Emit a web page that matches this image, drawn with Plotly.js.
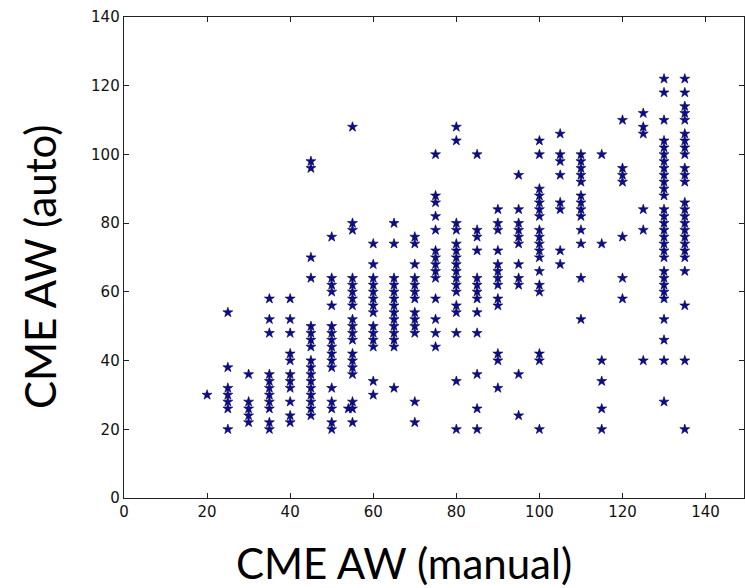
<!DOCTYPE html>
<html>
<head>
<meta charset="utf-8">
<script src="https://cdn.plot.ly/plotly-3.0.1.min.js"></script>
<style>
  html, body { margin: 0; padding: 0; background: #fff; }
  #chart { width: 745px; height: 588px; }
</style>
</head>
<body>
<div id="chart"></div>
<script>
// CME angular width: manual (x) vs automatic (y), one array per manual-value column
const aw20  = [30];
const aw25  = [54, 38, 32, 30, 28, 26, 20];
const aw30  = [36, 28, 26, 24, 22];
const aw35  = [58, 52, 48, 36, 34, 32, 30, 28, 26, 22, 20];
const aw40  = [58, 52, 48, 42, 40, 36, 34, 32, 28, 24, 22];
const aw45  = [98, 96, 70, 64, 50, 48, 46, 44, 40, 38, 36, 34, 32, 30, 28, 26, 24];
const aw50  = [76, 64, 62, 60, 56, 50, 48, 46, 44, 42, 40, 38, 32, 28, 26, 22, 20];
const aw54  = [26];
const aw55  = [108, 80, 78, 64, 62, 60, 58, 56, 52, 50, 48, 46, 42, 40, 38, 36, 28, 26, 22];
const aw60  = [74, 68, 64, 62, 60, 58, 56, 54, 50, 48, 46, 44, 34, 30];
const aw65  = [80, 74, 64, 62, 60, 58, 56, 54, 52, 50, 48, 46, 44, 32];
const aw70  = [76, 74, 68, 64, 62, 60, 58, 54, 52, 50, 48, 28, 22];
const aw75  = [100, 88, 86, 82, 78, 72, 70, 68, 66, 64, 58, 52, 48, 44];
const aw80  = [108, 104, 80, 78, 74, 72, 70, 68, 66, 64, 62, 60, 56, 54, 48, 34, 20];
const aw85  = [100, 78, 76, 72, 64, 62, 60, 58, 54, 48, 36, 26, 20];
const aw90  = [84, 80, 78, 72, 68, 66, 64, 62, 58, 56, 42, 40, 32];
const aw95  = [94, 84, 80, 78, 76, 74, 68, 64, 62, 36, 24];
const aw100 = [104, 100, 90, 88, 86, 84, 82, 78, 76, 74, 72, 70, 66, 62, 60, 42, 40, 20];
const aw105 = [106, 100, 98, 94, 86, 84, 72, 68];
const aw110 = [100, 98, 96, 94, 92, 88, 86, 84, 82, 78, 74, 64, 52];
const aw115 = [100, 74, 40, 34, 26, 20];
const aw120 = [110, 96, 94, 92, 76, 64, 58];
const aw125 = [112, 108, 106, 84, 78, 40];
const aw130 = [122, 118, 110, 104, 102, 100, 98, 96, 94, 92, 90, 88, 84, 82, 80, 78, 76, 74, 72, 70, 66, 64, 62, 60, 58, 52, 46, 40, 28];
const aw135 = [122, 118, 114, 112, 110, 106, 104, 102, 100, 96, 94, 92, 86, 84, 82, 80, 78, 76, 74, 72, 70, 66, 56, 40, 20];

const manualValues = [20, 25, 30, 35, 40, 45, 50, 54, 55, 60, 65, 70, 75, 80, 85, 90, 95, 100, 105, 110, 115, 120, 125, 130, 135];
const autoColumns  = [aw20, aw25, aw30, aw35, aw40, aw45, aw50, aw54, aw55, aw60, aw65, aw70, aw75, aw80, aw85, aw90, aw95, aw100, aw105, aw110, aw115, aw120, aw125, aw130, aw135];

const xTicks = [0, 20, 40, 60, 80, 100, 120, 140];
const yTicks = [0, 20, 40, 60, 80, 100, 120, 140];

const xs = [], ys = [];
manualValues.forEach((m, i) => {
  autoColumns[i].forEach(v => { xs.push(m); ys.push(v); });
});

const trace = {
  type: 'scatter',
  mode: 'markers',
  x: xs,
  y: ys,
  marker: {
    symbol: 'star',
    size: 7.5,
    color: '#0c0c96',
    line: { color: '#000040', width: 0.6 }
  },
  hoverinfo: 'x+y'
};

const axisCommon = {
  showgrid: false,
  zeroline: false,
  showline: true,
  linecolor: '#222',
  linewidth: 1.3,
  mirror: 'allticks',
  ticks: 'inside',
  ticklen: 5,
  tickwidth: 1,
  tickcolor: '#222',
  tickfont: { family: 'DejaVu Sans', size: 15, color: '#111' }
};

const layout = {
  width: 745,
  height: 588,
  margin: { l: 124, r: 1, t: 17, b: 90 },
  paper_bgcolor: '#fff',
  plot_bgcolor: '#fff',
  showlegend: false,
  xaxis: Object.assign({}, axisCommon, {
    range: [0, 149.25],
    tickvals: xTicks,
    ticktext: xTicks.map(String)
  }),
  yaxis: Object.assign({}, axisCommon, {
    range: [0, 140],
    tickvals: yTicks,
    ticktext: yTicks.map(String)
  }),
  annotations: [
    {
      text: 'CME AW (manual)',
      xref: 'paper', yref: 'paper',
      x: (404 - 124) / 620, y: (498 - 563) / 481,
      xanchor: 'center', yanchor: 'middle',
      showarrow: false,
      font: { family: 'Lato', size: 42, color: '#000' }
    },
    {
      text: 'CME AW (auto)',
      xref: 'paper', yref: 'paper',
      x: (40 - 124) / 620, y: (498 - 267) / 481,
      xanchor: 'center', yanchor: 'middle',
      textangle: -90,
      showarrow: false,
      font: { family: 'Lato', size: 42, color: '#000' }
    }
  ]
};

Plotly.newPlot('chart', [trace], layout, { displayModeBar: false, staticPlot: true });
</script>
</body>
</html>
